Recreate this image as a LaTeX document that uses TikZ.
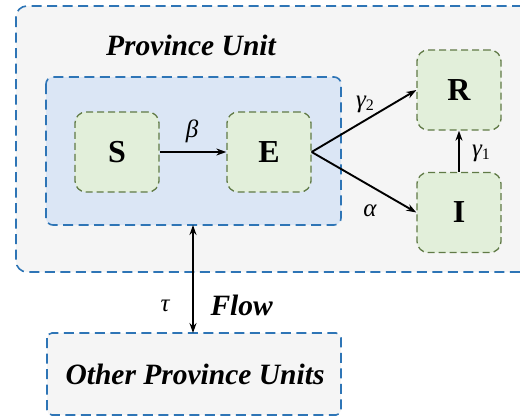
\documentclass[tikz,border=0pt]{standalone}
\usepackage{fontspec}
\setmainfont{Liberation Serif}
\usepackage{tikz}
\usetikzlibrary{positioning}
\usetikzlibrary{calc}
\usetikzlibrary{arrows.meta}
\definecolor{unitblue}{RGB}{46,117,182}
\definecolor{unitgray}{RGB}{245,245,245}
\definecolor{seirblue}{RGB}{219,230,245}
\definecolor{stategreen}{RGB}{226,239,218}
\definecolor{stateline}{RGB}{96,122,70}
\newcommand{\ratefont}{\fontsize{25}{29}\selectfont\itshape}
\newcommand{\rsub}[2]{#1\raisebox{-3pt}{\fontsize{16}{18}\selectfont\upshape #2}}
\tikzset{
	unitbox/.style={draw=unitblue,line width=1.6pt,dash pattern=on 10pt off 5.5pt},
	statebox/.style={draw=stateline,fill=stategreen,line width=1.3pt,dash pattern=on 7pt off 4pt,rounded corners=11pt,minimum width=84pt,minimum height=80pt,font=\fontsize{32}{36}\selectfont\bfseries},
	flow/.style={line width=1.9pt,-{Stealth[length=10pt,width=7pt]}},
	ratelabel/.style={inner sep=0pt},
	title/.style={font=\fontsize{29.5}{34}\selectfont\bfseries\itshape}
}
\begin{document}
\begin{tikzpicture}[x=1pt,y=-1pt]
	\useasboundingbox (0,0) rectangle (520,418);
	\clip (0,0) rectangle (520,418);
	
	% Province unit
	\draw[unitbox,fill=unitgray,rounded corners=11pt] (16,6) rectangle (535,272);
	\node[title] (unit) at (191,45) {Province Unit};
	\draw[unitbox,fill=seirblue,rounded corners=7pt] (46,77) rectangle (341,225);
	\coordinate (seir) at (193,225);
	
	% States
	\node[statebox] (S) at (117,152) {S};
	\node[statebox] (E) at (269,152) {E};
	\node[statebox] (R) at (459,90) {R};
	\node[statebox] (I) at (459,212.5) {I};
	
	\draw[flow] (S) -- (E);
	\draw[flow] (E.east) -- (R.west);
	\draw[flow] (E.east) -- (I.west);
	\draw[flow] (I) -- (R);
	\node[ratelabel] (beta) at (192,131) {\ratefont β};
	\node[ratelabel] (gamma2) at (365,104) {\ratefont\rsub{γ}{2}};
	\node[ratelabel] (alpha) at (370,211) {\ratefont α};
	\node[ratelabel] (gamma1) at (481,153) {\ratefont\rsub{γ}{1}};
	
	% Other units
	\draw[unitbox,fill=unitgray,rounded corners=5pt] (47,333) rectangle (341,415);
	\node[title] (other) at (195,374) {Other Province Units};
	\coordinate (otherTop) at (193,333);
	\draw[flow,{Stealth[length=10pt,width=7pt]}-{Stealth[length=10pt,width=7pt]}] (seir) -- (otherTop);
	\node[ratelabel] (tau) at (165,306) {\ratefont τ};
	\node[title,anchor=west] (flowlabel) at (207,305) {Flow};
\end{tikzpicture}
\end{document}
